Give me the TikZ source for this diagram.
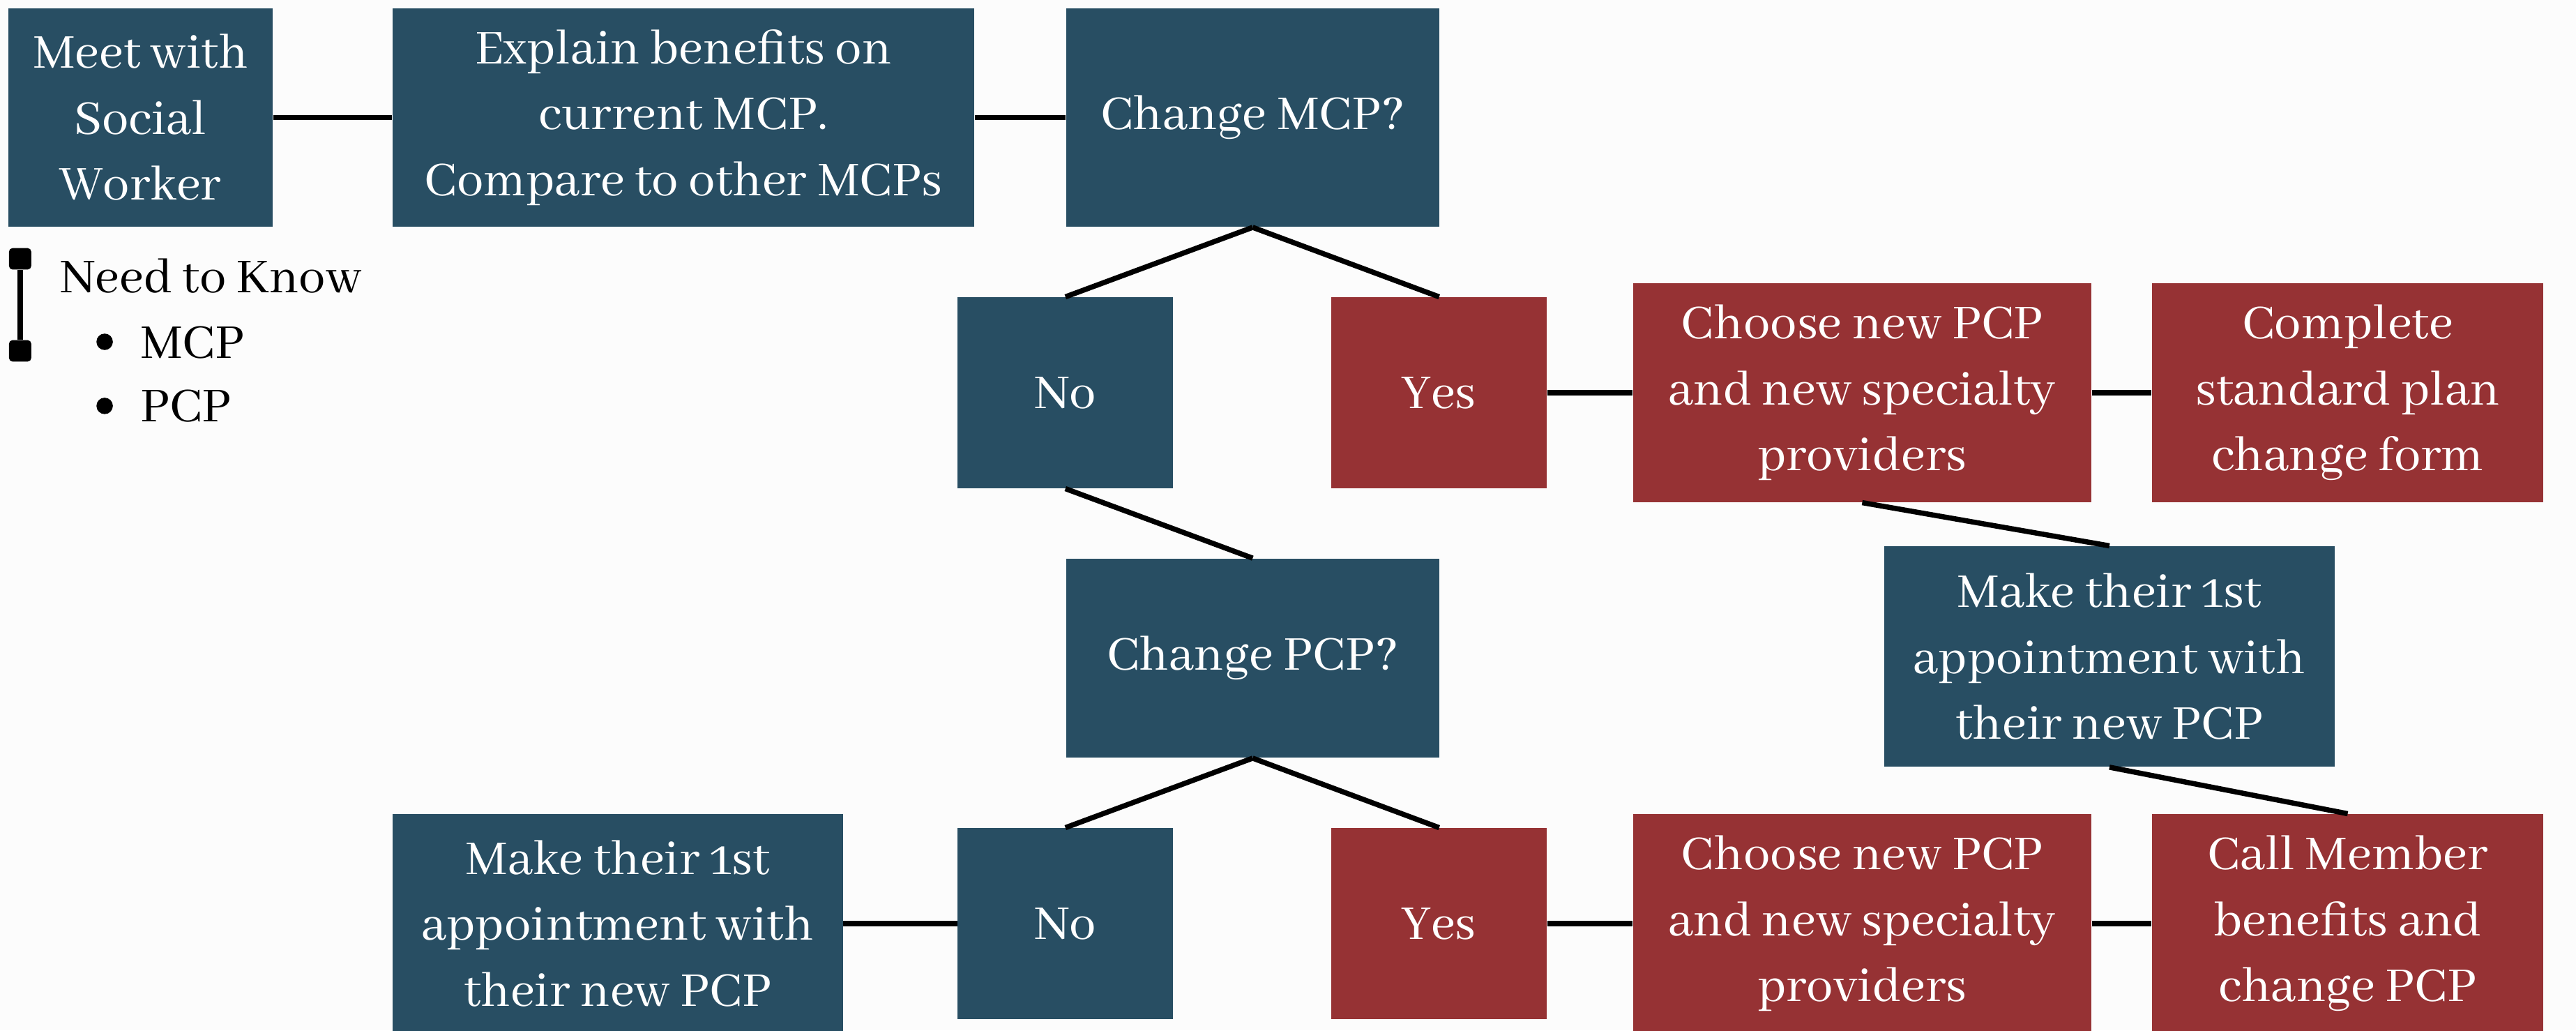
\documentclass[tikz,border=0pt]{standalone}
\usepackage{fontspec}
\setmainfont{Abhaya Libre}[Numbers=OldStyle]
\usetikzlibrary{positioning}

\definecolor{boxblue}{RGB}{40,78,99}
\definecolor{boxred}{RGB}{150,50,52}
\definecolor{paper}{RGB}{252,252,252}

\begin{document}
\begin{tikzpicture} [node distance = 3cm, on grid,
   txt/.style = {font=\fontsize{18.5}{22.8}\selectfont},
   box/.style = {txt, text=white, align=center, inner sep=0pt},
   bluebox/.style = {box, fill=boxblue},
   redbox/.style = {box, fill=boxred},
   boxsize/.style 2 args = {minimum width=#1, minimum height=#2},
   link/.style = {line width=1.8pt},
   endcap/.style = {fill=black, rounded corners=1.2pt, inner sep=0pt,
                    minimum width=0.27cm, minimum height=0.26cm},
   dot/.style = {circle, fill=black, inner sep=0pt, minimum size=0.2cm}]
   \fill[paper] (0,0) rectangle (31.36,-12.54);
   \useasboundingbox (0,0) rectangle (31.36,-12.54);

   % top row
   \node (mw)[bluebox, boxsize={3.22cm}{2.66cm}] at (1.71,-1.43) {Meet with\\Social\\Worker};
   \node (ex)[bluebox, boxsize={7.08cm}{2.66cm}, right = 6.61cm of mw] {Explain benefits on\\current MCP.\\Compare to other MCPs};
   \node (cm)[bluebox, boxsize={4.54cm}{2.66cm}, right = 6.93cm of ex] {Change MCP?};

   % MCP answers
   \node (no1)[bluebox, boxsize={2.62cm}{2.32cm}, below left = 3.35cm and 2.28cm of cm] {No};
   \node (yes1)[redbox, boxsize={2.62cm}{2.32cm}, right = 4.55cm of no1] {Yes};
   \node (ch1)[redbox, boxsize={5.58cm}{2.66cm}, right = 5.15cm of yes1] {Choose new PCP\\and new specialty\\providers};
   \node (cpl)[redbox, boxsize={4.76cm}{2.66cm}, right = 5.91cm of ch1] {Complete\\standard plan\\change form};
   \node (mk1)[bluebox, boxsize={5.48cm}{2.68cm}, below right = 3.21cm and 3.01cm of ch1] {Make their 1st\\appointment with\\their new PCP};

   % PCP question
   \node (cp)[bluebox, boxsize={4.54cm}{2.42cm}, below = 6.58cm of cm] {Change PCP?};
   \node (no2)[bluebox, boxsize={2.62cm}{2.32cm}, below = 6.46cm of no1] {No};
   \node (yes2)[redbox, boxsize={2.62cm}{2.32cm}, right = 4.55cm of no2] {Yes};
   \node (mk2)[bluebox, boxsize={5.48cm}{2.66cm}, left = 5.45cm of no2] {Make their 1st\\appointment with\\their new PCP};
   \node (ch2)[redbox, boxsize={5.58cm}{2.66cm}, right = 5.15cm of yes2] {Choose new PCP\\and new specialty\\providers};
   \node (call)[redbox, boxsize={4.76cm}{2.66cm}, right = 5.91cm of ch2] {Call Member\\benefits and\\change PCP};

   % need to know
   \node (capA)[endcap] at (0.245,-3.15) {};
   \node (capB)[endcap] at (0.245,-4.27) {};
   \node (ntk)[txt, anchor=base west, inner sep=0pt] at (0.73,-3.56) {Need to Know};
   \node (dot1)[dot] at (1.274,-4.16) {};
   \node (dot2)[dot] at (1.274,-4.94) {};
   \node (kn1)[txt, anchor=base west, inner sep=0pt] at (1.70,-4.356) {MCP};
   \node (kn2)[txt, anchor=base west, inner sep=0pt] at (1.70,-5.136) {PCP};
   \path[link](capA) edge (capB);

   \path[link](mw) edge (ex);
   \path[link](ex) edge (cm);
   \path[link](cm.south) edge (no1.north);
   \path[link](cm.south) edge (yes1.north);
   \path[link](no1.south) edge (cp.north);
   \path[link](yes1) edge (ch1);
   \path[link](ch1) edge (cpl);
   \path[link](ch1.south) edge (mk1.north);
   \path[link](mk1.south) edge (call.north);
   \path[link](cp.south) edge (no2.north);
   \path[link](cp.south) edge (yes2.north);
   \path[link](mk2) edge (no2);
   \path[link](yes2) edge (ch2);
   \path[link](ch2) edge (call);
\end{tikzpicture}
\end{document}
